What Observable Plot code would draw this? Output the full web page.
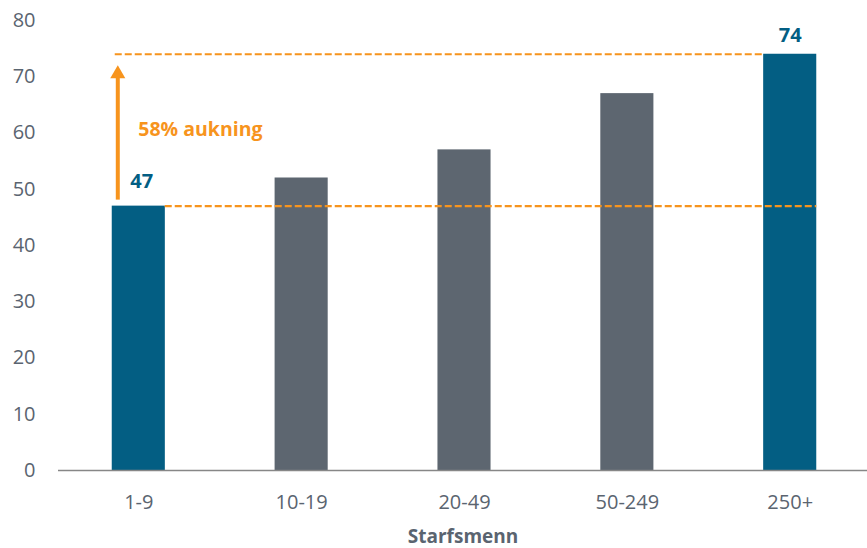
<!DOCTYPE html>
<html>
<head>
<meta charset="utf-8">
<script src="https://cdn.jsdelivr.net/npm/d3@7"></script>
<script src="https://cdn.jsdelivr.net/npm/@observablehq/plot@0.6"></script>
<style>
  html, body { margin: 0; padding: 0; background: #fff; }
  #chart { width: 867px; height: 548px; }
  svg { font-family: "Open Sans", sans-serif; }
</style>
</head>
<body>
<div id="chart"></div>
<script>
// ---- data ----
const categories = ["1-9", "10-19", "20-49", "50-249", "250+"];
const values = [47, 52, 57, 67, 74];
const highlighted = ["1-9", "250+"];
const yTicks = [0, 10, 20, 30, 40, 50, 60, 70, 80];
const xLabel = "Starfsmenn";
const annotationText = "58% aukning";
const lowValue = 47;
const highValue = 74;

const data = categories.map((c, i) => ({category: c, value: values[i]}));
const labelLow = data.filter(d => d.category === "1-9");
const labelHigh = data.filter(d => d.category === "250+");

const TEAL = "#035e83";
const GREY = "#5d6670";
const ORANGE = "#f7941d";
const TEXT = "#5a6470";

const chart = Plot.plot({
  width: 867,
  height: 548,
  marginLeft: 58,
  marginRight: 0,
  marginTop: 20,
  marginBottom: 78,
  style: {fontFamily: "'Open Sans', sans-serif", color: TEXT, background: "#fff"},
  x: {domain: categories, range: [58, 870], paddingInner: 0.674, paddingOuter: 0.33, round: false, label: null},
  y: {domain: [0, 80], label: null},
  marks: [
    Plot.axisY({ticks: yTicks, tickSize: 0, tickPadding: 23, fontSize: 20, fill: TEXT, label: null}),
    Plot.axisX({tickSize: 0, tickPadding: 24, fontSize: 20, fill: TEXT, label: null}),
    Plot.barY(data, {x: "category", y: "value", fill: d => highlighted.includes(d.category) ? TEAL : GREY}),
    Plot.ruleY([0], {stroke: "#878787", strokeWidth: 1.6}),
    // dashed reference lines
    Plot.ruleY([highValue], {x1: () => "1-9", x2: () => "250+", insetLeft: 3, insetRight: 53, stroke: ORANGE, strokeWidth: 2.2, strokeDasharray: "7,3"}),
    Plot.ruleY([lowValue], {x1: () => "1-9", x2: () => "250+", insetLeft: 53, stroke: ORANGE, strokeWidth: 2.2, strokeDasharray: "7,3"}),
    // arrow
    Plot.ruleX(["1-9"], {y1: highValue, y2: lowValue, insetTop: 20, insetBottom: 6, dx: -21, stroke: ORANGE, strokeWidth: 4}),
    Plot.dot(["1-9"], {x: d => d, y: () => highValue, dx: -21, dy: 19.7, symbol: "triangle", r: 5.6, fill: ORANGE, stroke: "none"}),
    Plot.text([annotationText], {x: () => "1-9", y: () => (lowValue + highValue) / 2, text: d => d, textAnchor: "start", dx: -0.5, fill: ORANGE, fontSize: 19.5, fontWeight: "bold"}),
    // value labels
    Plot.text(labelLow, {x: "category", y: "value", text: d => String(d.value), dx: 3, dy: -25, fill: TEAL, fontSize: 20, fontWeight: "bold"}),
    Plot.text(labelHigh, {x: "category", y: "value", text: d => String(d.value), dx: 0, dy: -19, fill: TEAL, fontSize: 20, fontWeight: "bold"}),
    // x axis title
    Plot.text([xLabel], {frameAnchor: "bottom", lineAnchor: "middle", text: d => d, dy: 66, fill: TEXT, fontSize: 19, fontWeight: "bold"})
  ]
});
document.getElementById("chart").appendChild(chart);
</script>
</body>
</html>
